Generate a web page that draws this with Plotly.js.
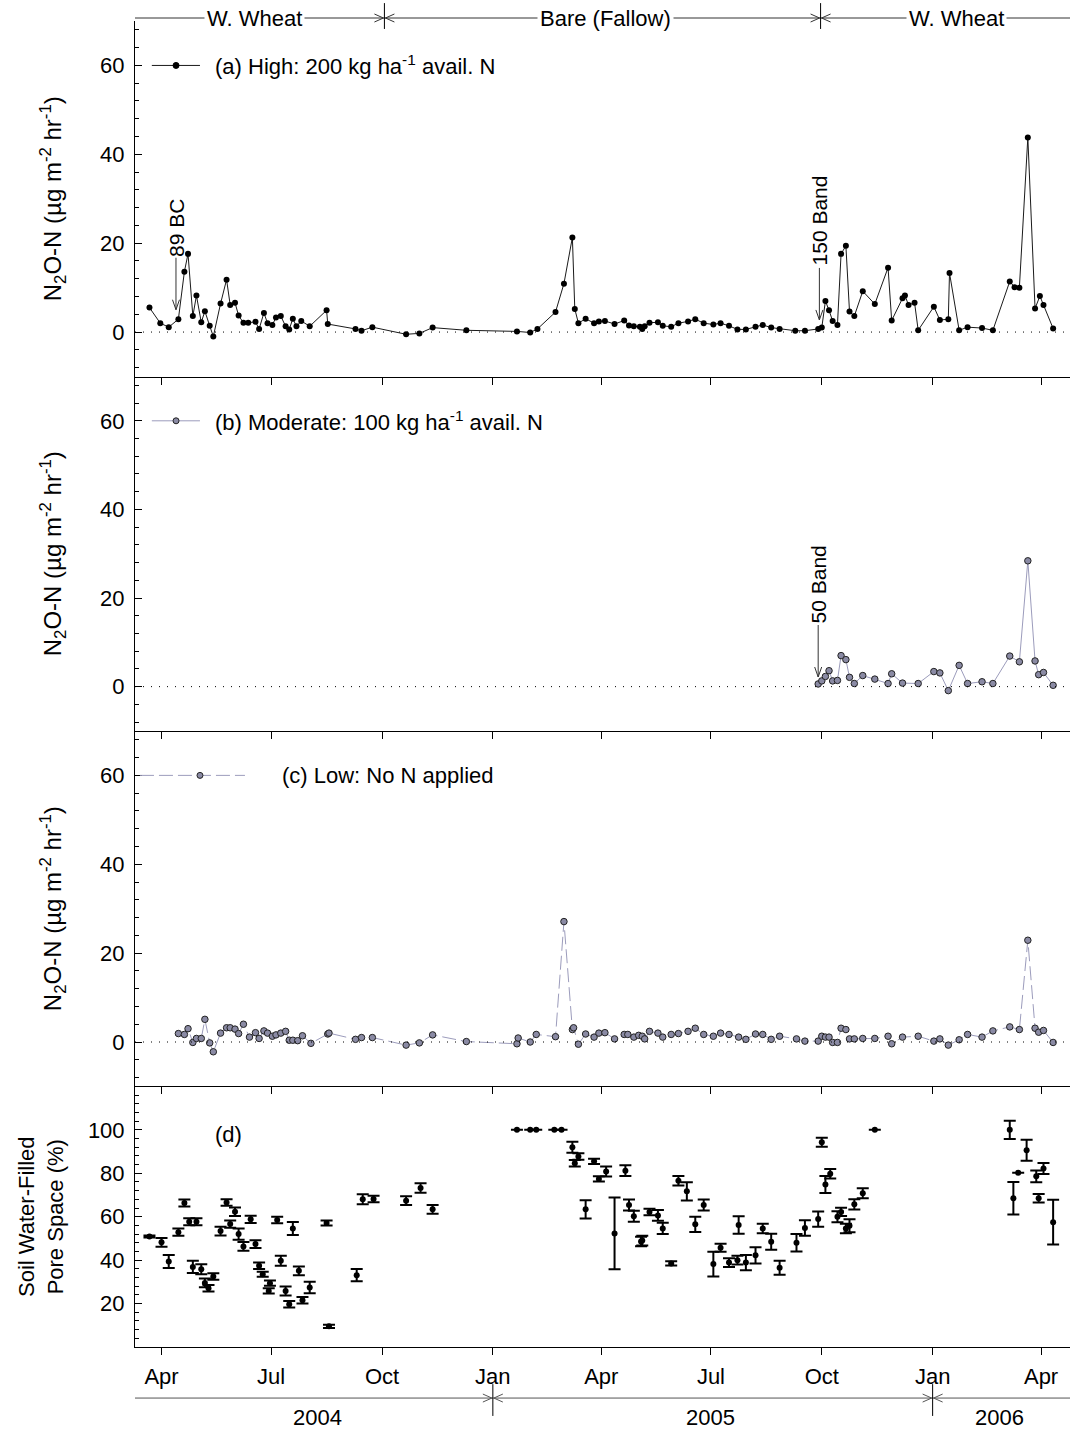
<!DOCTYPE html>
<html><head><meta charset="utf-8">
<script src="https://cdn.plot.ly/plotly-3.0.1.min.js"></script>
<style>body{margin:0;background:#fff}#chart{width:1088px;height:1430px}</style>
</head><body><div id="chart"></div>
<script>
// ---------- tick labels ----------
const monthTicks = ['2004-04-01','2004-07-01','2004-10-01','2005-01-01','2005-04-01','2005-07-01','2005-10-01','2006-01-01','2006-04-01'];
const monthLabels = ['Apr','Jul','Oct','Jan','Apr','Jul','Oct','Jan','Apr'];
const yearLabels = ['2004','2005','2006'];
const yearBounds = ['2005-01-01','2006-01-01'];
const phaseLabels = ['W. Wheat','Bare (Fallow)','W. Wheat'];
const phaseBounds = ['2004-10-03','2005-09-30'];

// ---------- (a) High: 200 kg/ha ----------
const hiDate = ['2004-03-22','2004-03-31','2004-04-07','2004-04-15','2004-04-20','2004-04-23','2004-04-27','2004-04-30','2004-05-04','2004-05-07','2004-05-11','2004-05-14','2004-05-20','2004-05-25','2004-05-28','2004-06-01','2004-06-04','2004-06-08','2004-06-12','2004-06-18','2004-06-21','2004-06-25','2004-06-28','2004-07-02','2004-07-05','2004-07-09','2004-07-13','2004-07-16','2004-07-19','2004-07-22','2004-07-26','2004-08-02','2004-08-16','2004-08-17','2004-09-09','2004-09-14','2004-09-23','2004-10-21','2004-11-01','2004-11-12','2004-12-10',
'2005-01-21','2005-02-01','2005-02-07','2005-02-22','2005-03-01','2005-03-08','2005-03-10','2005-03-13','2005-03-19','2005-03-26','2005-03-30','2005-04-04','2005-04-12','2005-04-20','2005-04-24','2005-04-28','2005-05-03','2005-05-05','2005-05-07','2005-05-11','2005-05-18','2005-05-22','2005-05-29','2005-06-04','2005-06-12','2005-06-18','2005-06-25','2005-07-03','2005-07-09','2005-07-16','2005-07-23','2005-07-30','2005-08-07','2005-08-13','2005-08-20','2005-08-27','2005-09-09','2005-09-17','2005-09-28','2005-10-01','2005-10-04','2005-10-07','2005-10-10','2005-10-14','2005-10-17','2005-10-21','2005-10-24','2005-10-28','2005-11-04','2005-11-14','2005-11-25','2005-11-28','2005-12-07','2005-12-09','2005-12-12','2005-12-17','2005-12-20',
'2006-01-02','2006-01-07','2006-01-14','2006-01-15','2006-01-23','2006-01-30','2006-02-11','2006-02-20','2006-03-06','2006-03-10','2006-03-14','2006-03-21','2006-03-27','2006-03-31','2006-04-03','2006-04-11'];
const hiN2O = [5.5,2.0,1.1,2.9,13.6,17.6,3.6,8.2,2.2,4.7,1.4,-1.0,6.4,11.8,6.1,6.6,3.7,2.1,2.1,2.3,0.7,4.3,2.0,1.6,3.3,3.6,1.3,0.6,3.0,1.3,2.5,1.3,4.9,1.8,0.7,0.3,1.1,-0.5,-0.3,1.0,0.4,
0.15,-0.1,0.7,4.5,10.9,21.3,5.2,2.0,3.0,2.0,2.4,2.5,1.8,2.6,1.5,1.3,1.2,0.7,1.3,2.1,2.2,1.4,1.2,2.0,2.4,2.9,2.0,1.7,2.0,1.4,0.6,0.6,1.2,1.6,1.0,0.7,0.3,0.3,0.7,1.0,7.0,4.9,2.5,1.6,17.6,19.4,4.6,3.6,9.2,6.3,14.5,2.6,7.6,8.2,6.1,6.6,0.4,
5.7,2.7,2.9,13.3,0.4,1.1,0.9,0.4,11.4,10.1,10.0,43.8,5.3,8.1,6.1,0.8];

// ---------- (b) Moderate: 100 kg/ha ----------
const modDate = ['2005-09-28','2005-10-01','2005-10-04','2005-10-07','2005-10-10','2005-10-14','2005-10-17','2005-10-21','2005-10-24','2005-10-28','2005-11-04','2005-11-14','2005-11-25','2005-11-28','2005-12-07','2005-12-20','2006-01-02','2006-01-07','2006-01-14','2006-01-23','2006-01-30','2006-02-11','2006-02-20','2006-03-06','2006-03-14','2006-03-21','2006-03-27','2006-03-30','2006-04-03','2006-04-11'];
const modN2O = [0.6,1.3,2.3,3.6,1.3,1.4,7.0,6.1,2.1,0.7,2.5,1.7,0.7,2.9,0.8,0.7,3.4,3.1,-0.9,4.8,0.7,1.1,0.7,6.9,5.6,28.4,5.8,2.7,3.2,0.3];

// ---------- (c) Low: no N ----------
const lowDate = ['2004-04-15','2004-04-20','2004-04-23','2004-04-27','2004-04-30','2004-05-04','2004-05-07','2004-05-11','2004-05-14','2004-05-20','2004-05-25','2004-05-28','2004-06-01','2004-06-04','2004-06-08','2004-06-13','2004-06-18','2004-06-21','2004-06-25','2004-06-28','2004-07-02','2004-07-05','2004-07-09','2004-07-13','2004-07-16','2004-07-19','2004-07-23','2004-07-27','2004-08-03','2004-08-17','2004-08-18','2004-09-09','2004-09-14','2004-09-23','2004-10-21','2004-11-01','2004-11-12','2004-12-10',
'2005-01-21','2005-01-22','2005-02-01','2005-02-06','2005-02-22','2005-03-01','2005-03-08','2005-03-09','2005-03-13','2005-03-19','2005-03-26','2005-03-30','2005-04-04','2005-04-12','2005-04-20','2005-04-23','2005-04-28','2005-05-02','2005-05-05','2005-05-07','2005-05-11','2005-05-18','2005-05-22','2005-05-29','2005-06-04','2005-06-12','2005-06-18','2005-06-25','2005-07-03','2005-07-09','2005-07-16','2005-07-24','2005-07-30','2005-08-07','2005-08-13','2005-08-20','2005-08-27','2005-09-10','2005-09-17','2005-09-28','2005-10-01','2005-10-04','2005-10-07','2005-10-10','2005-10-14','2005-10-17','2005-10-21','2005-10-24','2005-10-28','2005-11-04','2005-11-14','2005-11-25','2005-11-28','2005-12-07','2005-12-20',
'2006-01-02','2006-01-07','2006-01-14','2006-01-23','2006-01-30','2006-02-11','2006-02-20','2006-03-06','2006-03-14','2006-03-21','2006-03-27','2006-03-30','2006-04-03','2006-04-11'];
const lowN2O = [1.9,1.7,3.0,-0.1,0.8,0.8,5.1,-0.2,-2.2,2.0,3.2,3.2,2.9,1.9,4.0,1.1,2.1,0.8,2.5,2.0,1.3,1.6,2.0,2.4,0.4,0.4,0.3,1.4,-0.3,1.8,2.0,0.6,1.0,1.0,-0.7,-0.2,1.6,0.1,
-0.4,0.9,0.0,1.7,1.2,27.1,2.8,3.2,-0.5,1.8,1.1,2.0,2.1,0.7,1.7,1.7,1.1,1.5,1.3,0.7,2.4,2.0,1.1,1.7,1.9,2.4,3.1,1.7,1.3,2.0,1.7,1.1,0.6,1.8,1.7,0.6,1.3,0.7,0.2,0.2,1.3,1.1,1.1,-0.1,-0.1,3.1,2.8,0.7,0.7,0.8,0.8,1.3,-0.4,1.1,1.3,
0.2,0.7,-0.7,0.5,1.7,1.1,2.5,3.4,2.8,22.9,3.1,2.2,2.6,-0.1];

// ---------- (d) Soil water-filled pore space ----------
const wfpsDate = ['2004-03-22','2004-04-01','2004-04-07','2004-04-15','2004-04-20','2004-04-24','2004-04-27','2004-04-30','2004-05-04','2004-05-07','2004-05-10','2004-05-14','2004-05-20','2004-05-25','2004-05-28','2004-06-01','2004-06-04','2004-06-08','2004-06-14','2004-06-18','2004-06-21','2004-06-24','2004-06-29','2004-06-30','2004-07-06','2004-07-09','2004-07-13','2004-07-16','2004-07-19','2004-07-24','2004-07-27','2004-08-02','2004-08-16','2004-08-18','2004-09-10','2004-09-15','2004-09-24','2004-10-21','2004-11-02','2004-11-12',
'2005-01-21','2005-02-01','2005-02-06','2005-02-21','2005-02-27','2005-03-08','2005-03-10','2005-03-13','2005-03-19','2005-03-26','2005-03-30','2005-04-05','2005-04-12','2005-04-21','2005-04-24','2005-04-28','2005-05-04','2005-05-05','2005-05-11','2005-05-18','2005-05-22','2005-05-29','2005-06-04','2005-06-11','2005-06-18','2005-06-25','2005-07-03','2005-07-09','2005-07-16','2005-07-23','2005-07-24','2005-07-30','2005-08-07','2005-08-13','2005-08-20','2005-08-27','2005-09-10','2005-09-17','2005-09-28','2005-10-01','2005-10-04','2005-10-08','2005-10-14','2005-10-17','2005-10-21','2005-10-24','2005-10-28','2005-11-04','2005-11-14',
'2006-03-06','2006-03-09','2006-03-13','2006-03-20','2006-03-28','2006-03-30','2006-04-03','2006-04-11'];
const wfpsMean = [50.9,48.2,39.4,52.9,66.3,57.7,36.9,57.7,35.8,29.5,27.1,32.5,53.4,66.5,56.6,62.3,52.0,46.3,58.8,47.4,37.4,33.5,25.8,29.4,58.5,39.7,25.8,19.7,54.6,35.1,21.5,27.4,57.1,9.5,33.1,68.0,68.2,67.4,73.2,63.4,
100,100,100,100,100,92.0,84.6,87.7,63.4,85.5,77.4,80.8,52.3,81.2,65.4,60.2,48.6,49.0,62.2,60.6,54.6,38.5,76.6,71.7,56.5,65.4,38.2,45.7,38.9,40.0,56.2,38.9,42.2,54.6,48.5,36.5,48.0,54.8,58.9,94.3,74.8,79.8,60.0,62.2,54.6,55.8,65.7,70.8,100,
100,68.5,80.3,90.6,78.6,68.5,82.2,57.5];
const wfpsErr = [0.5,2,3,1.7,1.6,1.6,2.8,1.6,2.3,2,1.5,1.5,2,1.5,1.7,2,2.6,2,1.7,1.8,1.5,1.2,1.2,1.2,1.5,2.3,2.1,1.5,3,2,1.5,2.6,1.2,0.7,2.8,2.3,1.5,2,2.2,2,
null,null,null,null,null,2.5,1.5,1.5,4.2,1.2,1.2,2.3,16.5,2.5,2.5,2.5,2.2,2.2,1.5,2.5,2.6,1,2.2,4.2,3.5,2.5,5.7,1.8,2,2,4,3.5,3.7,2.2,3.7,3.2,4,3.6,3.5,2.1,3.9,2.2,2.5,1.9,2.2,3,2.4,2.3,null,
4.2,7.5,null,4.8,2.7,2,2.5,10.3];

// ---------- figure ----------
const FONT = '"Liberation Sans", Arial, sans-serif';
const FS = 22;
const LAV = '#9c9cbc';
const MFILL = '#8a8aa4';

const traces = [
  {x: hiDate, y: hiN2O, xaxis:'x', yaxis:'y', type:'scatter', mode:'lines+markers',
   line:{color:'#1a1a1a', width:1}, marker:{color:'#000', size:6}},
  {x: modDate, y: modN2O, xaxis:'x2', yaxis:'y2', type:'scatter', mode:'lines+markers',
   line:{color:LAV, width:1}, marker:{color:MFILL, size:6.5, line:{color:'#222', width:1}}},
  {x: lowDate, y: lowN2O, xaxis:'x3', yaxis:'y3', type:'scatter', mode:'lines+markers',
   line:{color:LAV, width:1, dash:'14px,5px'}, marker:{color:MFILL, size:6.5, line:{color:'#222', width:1}}},
  {x: wfpsDate, y: wfpsMean, xaxis:'x4', yaxis:'y4', type:'scatter', mode:'markers',
   marker:{color:'#000', size:6},
   error_y:{type:'data', array: wfpsErr, visible:true, color:'#000', thickness:2, width:6}}
];

function xAx(anchor, labels){
  return {type:'date', range:['2004-03-10','2006-04-25'], anchor:anchor,
    tickmode:'array', tickvals: monthTicks, ticktext: monthLabels, showticklabels: labels,
    ticks:'outside', ticklen:7, tickcolor:'#000', tickwidth:1,
    showline:true, linecolor:'#000', linewidth:1, showgrid:false, zeroline:false,
    tickfont:{family:FONT, size:FS, color:'#000'}, ticklabelstandoff: 3};
}
const n2oTitle = 'N<sub>2</sub>O-N (\u00b5g m<sup>-2</sup> hr<sup>-1</sup>)';
function yAx(anchor, dom){
  return {anchor:anchor, domain:dom, range:[-10,70], tickmode:'linear', tick0:0, dtick:20,
    ticks:'inside', ticklen:7, tickcolor:'#000', showline:true, linecolor:'#000', linewidth:1,
    showgrid:false, zeroline:false, ticklabelstandoff:5,
    minor:{tick0:0, dtick:4, ticks:'inside', ticklen:4, tickcolor:'#000'},
    tickfont:{family:FONT, size:FS, color:'#000'},
    title:{text:n2oTitle, font:{family:FONT, size:24, color:'#000'}, standoff:31}};
}

const shapes = [];
const annotations = [];
// dotted zero lines
['y','y2','y3'].forEach(yr => shapes.push({type:'line', xref:'paper', yref:yr, x0:0, x1:1, y0:0, y1:0,
  line:{color:'#000', width:1, dash:'1px,7px'}}));

// open arrowheads pointing at a vertical bar from both sides
function sideHeads(xref, xval, yval, color){
  shapes.push({type:'path', xref:xref, yref:'paper', xsizemode:'pixel', ysizemode:'pixel', xanchor:xval, yanchor:yval,
    path:'M -10,4 L -1,0 L -10,-4', line:{color:color, width:1}});
  shapes.push({type:'path', xref:xref, yref:'paper', xsizemode:'pixel', ysizemode:'pixel', xanchor:xval, yanchor:yval,
    path:'M 10,4 L 1,0 L 10,-4', line:{color:color, width:1}});
}

// header (crop phases)
const yHead = 1.00226;
shapes.push({type:'line', xref:'paper', yref:'paper', x0:0, x1:1, y0:yHead, y1:yHead, line:{color:'#333', width:1}});
phaseBounds.forEach(d => {
  shapes.push({type:'line', xref:'x', yref:'paper', x0:d, x1:d, y0:0.9940, y1:1.0135, line:{color:'#000', width:1}});
  sideHeads('x', d, yHead, '#333');
});
[0.128, 0.5027, 0.879].forEach((px, i) => annotations.push({x:px, y:yHead, xref:'paper', yref:'paper',
  text:phaseLabels[i], showarrow:false, bgcolor:'#fff', borderpad:2, xanchor:'center', yanchor:'middle',
  font:{family:FONT, size:FS, color:'#000'}}));

// year line under the axis
const yYear = -0.0385;
shapes.push({type:'line', xref:'paper', yref:'paper', x0:0, x1:1, y0:yYear, y1:yYear, line:{color:'#555', width:1}});
yearBounds.forEach(d => {
  shapes.push({type:'line', xref:'x4', yref:'paper', x0:d, x1:d, y0:-0.0280, y1:-0.0520, line:{color:'#000', width:1}});
  sideHeads('x4', d, yYear, '#555');
});
[0.1957, 0.615, 0.925].forEach((px, i) => annotations.push({x:px, y:-0.0535, xref:'paper', yref:'paper',
  text:yearLabels[i], showarrow:false, xanchor:'center', yanchor:'middle', font:{family:FONT, size:FS, color:'#000'}}));

// in-panel legends
function legendSample(yr, x0, x1, xm, color, dash, mfill, mline){
  shapes.push({type:'line', xref:'paper', yref:yr, x0:x0, x1:x1, y0:60, y1:60, line:{color:color, width:1, dash:dash}});
  shapes.push({type:'circle', xref:'paper', yref:yr, xsizemode:'pixel', ysizemode:'pixel', xanchor:xm, yanchor:60,
    x0:-3, x1:3, y0:-3, y1:3, fillcolor:mfill, line:{color:mline, width:1}});
}
legendSample('y', 0.018, 0.0695, 0.0439, '#1a1a1a', 'solid', '#000', '#000');
legendSample('y2', 0.018, 0.0695, 0.0439, LAV, 'solid', MFILL, '#222');
legendSample('y3', 0.0053, 0.1176, 0.0695, LAV, '14px,5px', MFILL, '#222');
const legTxt = [
  ['y', 0.0834, '(a) High: 200 kg ha<sup>-1</sup> avail. N'],
  ['y2', 0.0834, '(b) Moderate: 100 kg ha<sup>-1</sup> avail. N'],
  ['y3', 0.155, '(c) Low: No N applied']];
legTxt.forEach(t => annotations.push({x:t[1], y:60, xref:'paper', yref:t[0], text:t[2], showarrow:false,
  xanchor:'left', yanchor:'middle', font:{family:FONT, size:FS, color:'#000'}}));
annotations.push({x:0.0834, y:98, xref:'paper', yref:'y4', text:'(d)', showarrow:false,
  xanchor:'left', yanchor:'middle', font:{family:FONT, size:FS, color:'#000'}});

// fertiliser application markers: vertical arrow + rotated label
const appl = [
  ['x','y','2004-04-13',4.8,23.4,'89 BC'],
  ['x','y','2005-09-29',2.5,25.2,'150 Band'],
  ['x2','y2','2005-09-28',1.95,23.1,'50 Band']];
appl.forEach(a => {
  shapes.push({type:'line', xref:a[0], yref:a[1], ysizemode:'pixel', yanchor:a[3], x0:a[2], x1:a[2], y0:1, y1:53,
    line:{color:'#333', width:1}});
  shapes.push({type:'path', xref:a[0], yref:a[1], xsizemode:'pixel', ysizemode:'pixel', xanchor:a[2], yanchor:a[3],
    path:'M -3.5,11 L 0,1 L 3.5,11', line:{color:'#333', width:1}});
  annotations.push({x:a[2], y:a[4], xref:a[0], yref:a[1], text:a[5], showarrow:false, textangle:-90,
    xanchor:'center', yanchor:'middle', font:{family:FONT, size:FS-1, color:'#000'}});
});

const layout = {
  width:1088, height:1430, paper_bgcolor:'#fff', plot_bgcolor:'#fff', showlegend:false,
  margin:{l:135, r:18, t:21, b:83},
  font:{family:FONT, size:FS, color:'#000'},
  xaxis: xAx('y', false), xaxis2: xAx('y2', false), xaxis3: xAx('y3', false), xaxis4: xAx('y4', true),
  yaxis: yAx('x', [0.7319, 1]), yaxis2: yAx('x2', [0.4646, 0.7319]), yaxis3: yAx('x3', [0.1965, 0.4646]),
  yaxis4: {anchor:'x4', domain:[0, 0.1965], range:[0,120], tickmode:'array', tickvals:[20,40,60,80,100],
    ticks:'inside', ticklen:7, tickcolor:'#000', showline:true, linecolor:'#000', linewidth:1,
    showgrid:false, zeroline:false, ticklabelstandoff:5,
    minor:{tick0:0, dtick:4, ticks:'inside', ticklen:4, tickcolor:'#000'},
    tickfont:{family:FONT, size:FS, color:'#000'},
    title:{text:'Soil Water-Filled<br>Pore Space (%)', font:{family:FONT, size:22, color:'#000'}, standoff:18}},
  shapes: shapes, annotations: annotations
};

Plotly.newPlot('chart', traces, layout, {staticPlot:true, displayModeBar:false});
</script></body></html>
